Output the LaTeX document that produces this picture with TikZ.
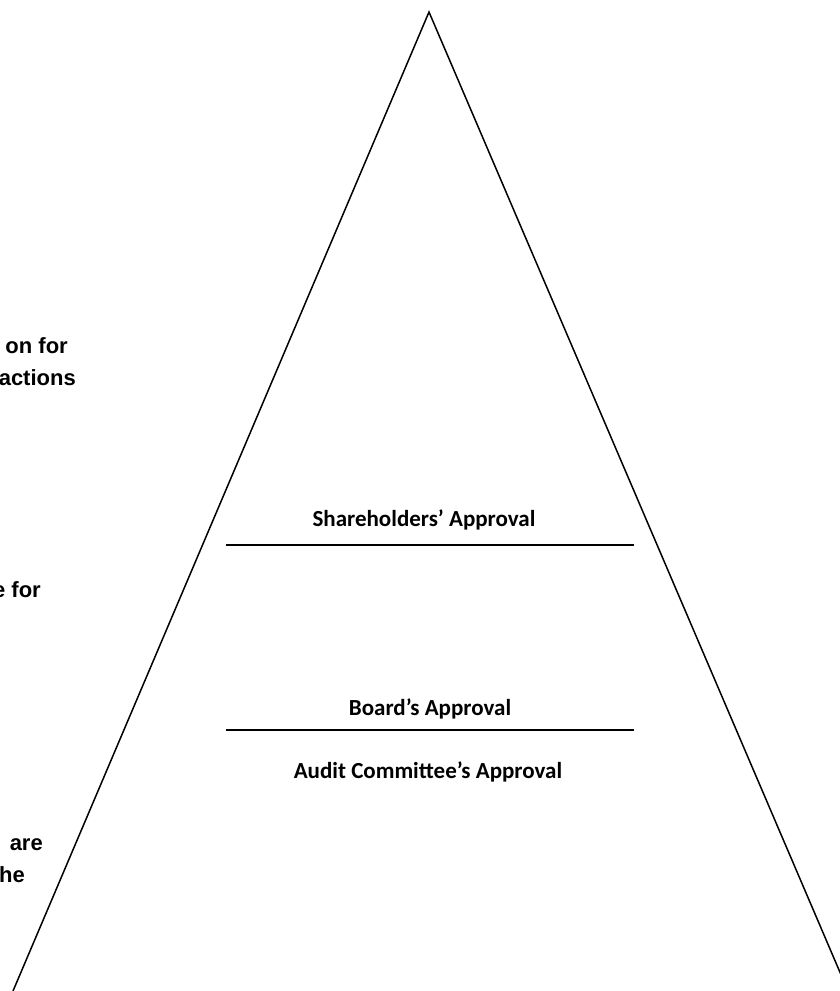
\documentclass[tikz,border=0pt]{standalone}
\usepackage{fontspec}
\setmainfont{Carlito}
\newfontfamily\arialfont{Liberation Sans}
\tikzset{
	level/.style={font=\fontsize{23}{27}\selectfont\bfseries, anchor=base, inner sep=0pt},
	sidetext/.style={font=\arialfont\fontsize{22}{26}\selectfont\bfseries, anchor=base east, inner sep=0pt},
	divider/.style={line width=2pt}
}
\begin{document}
\begin{tikzpicture}[x=1pt, y=-1pt]
	\useasboundingbox (0,0) rectangle (840,991);
	\coordinate (apex) at (429,12);
	\coordinate (L) at (13,991);
	\coordinate (R) at (848,991);
	% pyramid sides
	\draw[line width=1.5pt, line join=miter] (L) -- (apex) -- (R);
	% approval levels
	\node[level] (share) at (424,526) {Shareholders’ Approval};
	\draw[divider] (226,545) coordinate (s0) -- (634,545) coordinate (s1);
	\node[level] (board) at (430,715) {Board’s Approval};
	\draw[divider] (226,730) coordinate (b0) -- (634,730) coordinate (b1);
	\node[level] (audit) at (428,778) {Audit Committee’s Approval};
	% cut-off side notes
	\node[sidetext] (t1) at (68,353) {on for};
	\node[sidetext] (t2) at (76,385) {actions};
	\node[sidetext] (t3) at (41,597) {e for};
	\node[sidetext] (t4) at (43,850) {are};
	\node[sidetext] (t5) at (25,882) {he};
\end{tikzpicture}
\end{document}
